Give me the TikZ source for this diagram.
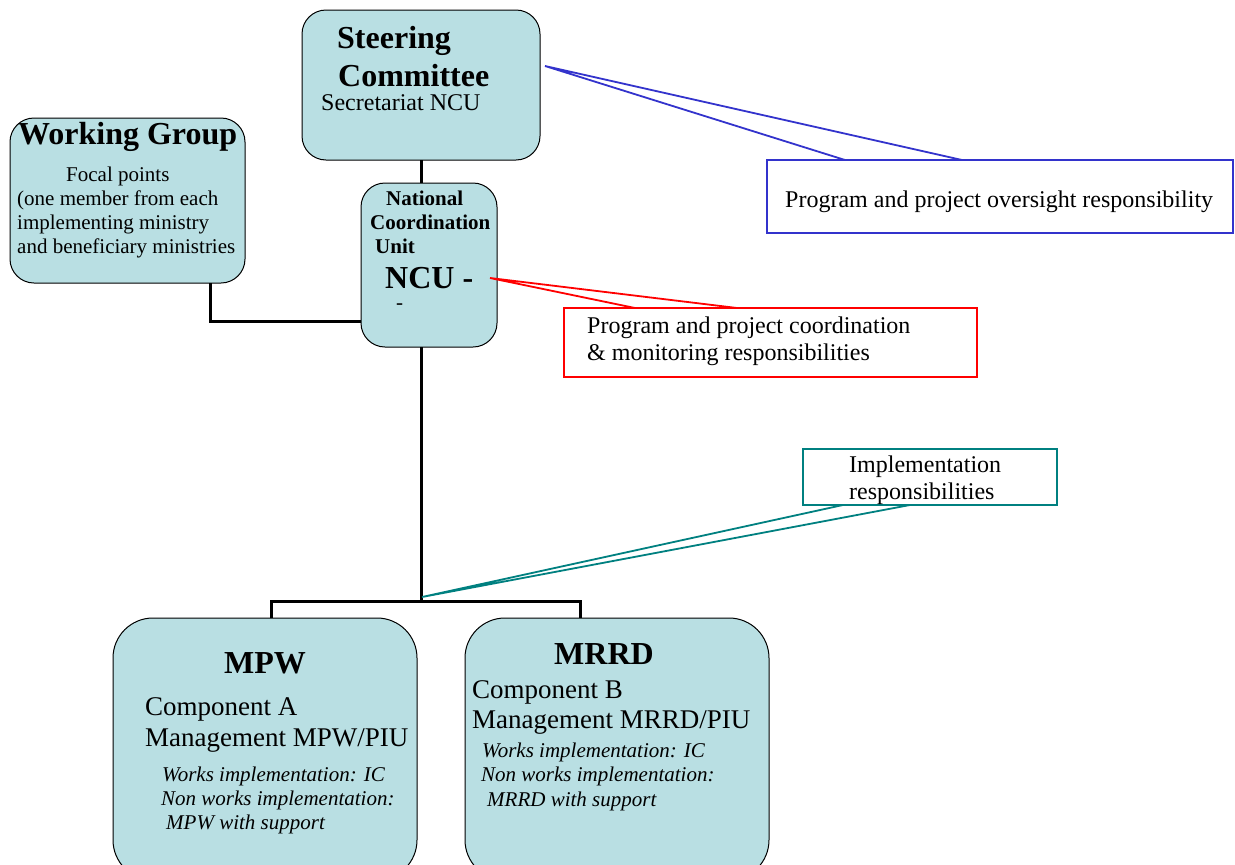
\documentclass[tikz,border=0pt]{standalone}
\usepackage{fontspec}
\setmainfont{Liberation Serif}
\usetikzlibrary{calc}

\definecolor{unitfill}{RGB}{185,223,227}
\definecolor{oversightblue}{RGB}{51,51,204}
\definecolor{coordred}{RGB}{255,0,0}
\definecolor{implteal}{RGB}{0,128,128}

\begin{document}
\begin{tikzpicture}[x=1pt, y=-1pt,
	unitbox/.style={draw, fill=unitfill, rounded corners=24pt, line width=1pt,
		inner sep=0pt, outer sep=0pt, anchor=north west},
	callbox/.style={draw, fill=white, line width=1.6pt,
		inner sep=0pt, outer sep=0pt, anchor=north west},
	link/.style={line width=3pt},
	txt/.style={anchor=base west, inner sep=0pt},
	fhead/.style={font=\fontsize{32}{36}\selectfont\bfseries},
	fbody/.style={font=\fontsize{24}{28}\selectfont},
	fcomp/.style={font=\fontsize{27}{30}\selectfont},
	fnote/.style={font=\fontsize{21}{24}\selectfont},
	fnotebf/.style={font=\fontsize{21}{24}\selectfont\bfseries},
	fitalic/.style={font=\fontsize{21}{24}\selectfont\itshape},
]

% frame %{{{2

	\useasboundingbox (0,0) rectangle (1235,865);

% coordinates %{{{2

	\coordinate (wgfoot) at (210,283);
	\coordinate (nculeft) at (361,321);
	\coordinate (fork) at (421,601);
	\coordinate (mpwtop) at (271,618);
	\coordinate (mrrdtop) at (580,618);

	\coordinate (steertip) at (545,66);
	\coordinate (ncutip) at (490,278);
	\coordinate (forktip) at (422,597);

% units %{{{2

	\node[unitbox, minimum width=238pt, minimum height=150pt] (steer) at (302,10) {};
	\node[unitbox, minimum width=235pt, minimum height=165pt] (wg) at (10,118) {};
	\node[unitbox, minimum width=136pt, minimum height=164pt] (ncu) at (361,183) {};
	\node[unitbox, rounded corners=40pt, minimum width=304pt, minimum height=262pt] (mpw) at (113,618) {};
	\node[unitbox, rounded corners=40pt, minimum width=304pt, minimum height=262pt] (mrrd) at (465,618) {};

% links %{{{2

	\draw[link] (steer.south -| fork) -- (ncu.north -| fork);
	\draw[link] (wgfoot) |- (nculeft);
	\draw[link] (ncu.south -| fork) -- (fork);
	\draw[link] (mpwtop) |- (fork) -| (mrrdtop);

% callouts %{{{2

	\node[callbox, draw=oversightblue, minimum width=466pt, minimum height=73pt] (oversight) at (767,160) {};
	\node[callbox, draw=coordred, minimum width=413pt, minimum height=69pt] (coord) at (564,308) {};
	\node[callbox, draw=implteal, minimum width=254pt, minimum height=56pt] (impl) at (803,449) {};

	\draw[oversightblue, line width=1.8pt] ($(oversight.north west)+(78,0)$) -- (steertip) -- ($(oversight.north west)+(195,0)$);
	\draw[coordred, line width=1.8pt] ($(coord.north west)+(71,0)$) -- (ncutip) -- ($(coord.north west)+(173,0)$);
	\draw[implteal, line width=1.8pt] ($(impl.south west)+(40,0)$) -- (forktip) -- ($(impl.south west)+(107,0)$);

% steering committee text %{{{2

	\node[txt, fhead] (steer-a) at (337,48) {Steering};
	\node[txt, fhead] (steer-b) at (338,86) {Committee};
	\node[txt, fbody] (steer-c) at (321,110) {Secretariat NCU};

% working group text %{{{2

	\node[txt, fhead] (wg-a) at (18,144) {Working Group};
	\node[txt, fnote] (wg-b) at (66,181) {Focal points};
	\node[txt, fnote] (wg-c) at (17,205) {(one member from each};
	\node[txt, fnote] (wg-d) at (17,229) {implementing ministry};
	\node[txt, fnote] (wg-e) at (17,253) {and beneficiary ministries};

% ncu text %{{{2

	\node[txt, fnotebf] (ncu-a) at (386,205) {National};
	\node[txt, fnotebf] (ncu-b) at (370,229) {Coordination};
	\node[txt, fnotebf] (ncu-c) at (375,253) {Unit};
	\node[txt, fhead] (ncu-d) at (385,288) {NCU -};
	\node[txt, fnote] (ncu-e) at (396,309) {-};

% mpw text %{{{2

	\node[anchor=base, inner sep=0pt, fhead] (mpw-a) at (265,673) {MPW};
	\node[txt, fcomp] (mpw-b) at (145,715) {Component A};
	\node[txt, fcomp] (mpw-c) at (145,746) {Management MPW/PIU};
	\node[txt, fitalic] (mpw-d) at (162,781) {Works implementation: IC};
	\node[txt, fitalic] (mpw-e) at (161,805) {Non works implementation:};
	\node[txt, fitalic] (mpw-f) at (166,829) {MPW with support};

% mrrd text %{{{2

	\node[anchor=base, inner sep=0pt, fhead] (mrrd-a) at (604,664) {MRRD};
	\node[txt, fcomp] (mrrd-b) at (472,698) {Component B};
	\node[txt, fcomp] (mrrd-c) at (472,728) {Management MRRD/PIU};
	\node[txt, fitalic] (mrrd-d) at (482,757) {Works implementation: IC};
	\node[txt, fitalic] (mrrd-e) at (481,781) {Non works implementation:};
	\node[txt, fitalic] (mrrd-f) at (487,806) {MRRD with support};

% callout text %{{{2

	\node[txt, fbody] (oversight-t) at (785,207) {Program and project oversight responsibility};
	\node[txt, fbody] (coord-a) at (587,333) {Program and project coordination};
	\node[txt, fbody] (coord-b) at (587,360) {\& monitoring responsibilities};
	\node[txt, fbody] (impl-a) at (849,472) {Implementation};
	\node[txt, fbody] (impl-b) at (849,499) {responsibilities};

% closing %{{{2

\end{tikzpicture}
\end{document}
